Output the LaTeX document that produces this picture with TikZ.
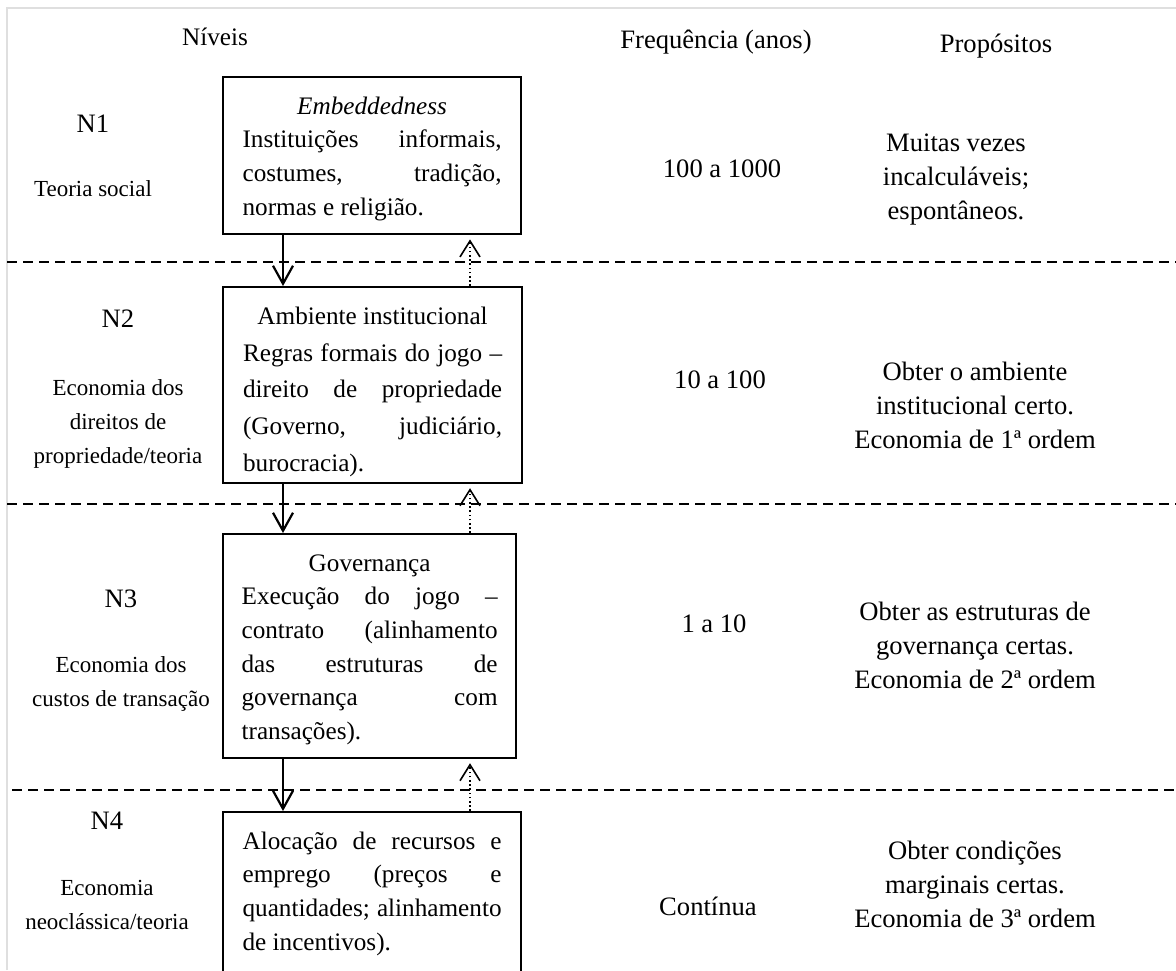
\documentclass[tikz,border=0pt]{standalone}
\usepackage{fontspec}
\setmainfont{Liberation Serif}
\usetikzlibrary{positioning,
				arrows.meta}
\newcommand\boxfont{\fontsize{12.6}{16.8}\selectfont}
\newcommand\colfont{\fontsize{13.3}{17}\selectfont}
\newcommand\descfont{\fontsize{11.5}{16.8}\selectfont}
\newcommand\plainsp{\spaceskip=0pt\xspaceskip=0pt}
\newcommand\jline[1]{\makebox[\linewidth][s]{#1}}
\tikzset{
	levelbox/.style={draw, line width=1.1pt, anchor=north west, inner xsep=9pt, inner ysep=10pt,
		text width=129.5pt, text height=8.6pt, align=left, font=\boxfont},
	coltext/.style={align=center, font=\colfont},
	desctext/.style={align=center, font=\descfont},
	sepline/.style={dash pattern=on 5pt off 3pt, line width=0.9pt},
	downarrow/.style={-{Straight Barb[length=9pt,width=10pt]}, line width=1.1pt},
	uparrow/.style={-{Straight Barb[length=8pt,width=10pt]}, line width=0.8pt,
		dash pattern=on 0.8pt off 1.3pt, shorten >=2pt}
}

\begin{document}
\begin{tikzpicture}[x=0.5pt,y=-0.5pt]
		\clip (0,0) rectangle (1176,970);
		\draw[gray!25, line width=0.6pt] (7,970) -- (7,8) -- (1176,8);
		% column heads
		\node[coltext, font=\boxfont, anchor=base] (hniv) at (215,45) {Níveis};
		\node[coltext, anchor=base] (hfreq) at (716,48) {Frequência (anos)};
		\node[coltext, anchor=base] (hprop) at (996,52) {Propósitos};
		% separators
		\foreach \x/\y in {7/262, 7/504, 12/790}
			\draw[sepline] (\x,\y) -- (1176,\y);
		% levels
		\node[coltext, anchor=base] (n1) at (93,132) {N1};
		\node[desctext, anchor=base] (d1) at (93,196) {Teoria social};
		\node[coltext, anchor=base] (n2) at (118,327) {N2};
		\node[desctext] (d2) at (118,424) {Economia dos\\direitos de\\propriedade/teoria};
		\node[coltext, anchor=base] (n3) at (121,607) {N3};
		\node[desctext] (d3) at (121,684) {Economia dos\\custos de transação};
		\node[coltext, anchor=base] (n4) at (107,829) {N4};
		\node[desctext] (d4) at (107,905) {Economia\\neoclássica/teoria};
		% boxes
		\node[levelbox, minimum width=149pt, text depth=50pt] (b1) at (222,76)
			{\plainsp\makebox[\linewidth][c]{\textit{Embeddedness}}\\
			 \jline{Instituições informais,}\\
			 \jline{costumes, tradição,}\\
			 normas e religião.};
		\node[levelbox, minimum width=149.5pt, text depth=69.4pt,
			font=\fontsize{12.6}{18.4}\selectfont] (b2) at (222,286)
			{\plainsp\makebox[\linewidth][c]{Ambiente institucional}\\
			 \jline{Regras formais do jogo –}\\
			 \jline{direito de propriedade}\\
			 \jline{(Governo, judiciário,}\\
			 burocracia).};
		\node[levelbox, text width=128pt, minimum width=146.5pt, text depth=83.4pt] (b3) at (222,533)
			{\plainsp\makebox[\linewidth][c]{Governança}\\
			 \jline{Execução do jogo –}\\
			 \jline{contrato (alinhamento}\\
			 \jline{das estruturas de}\\
			 \jline{governança com}\\
			 transações).};
		\node[levelbox, minimum width=149pt, text depth=90pt] (b4) at (222,811)
			{\plainsp\jline{Alocação de recursos e}\\
			 \jline{emprego (preços e}\\
			 \jline{quantidades; alinhamento}\\
			 de incentivos).};
		% frequency
		\node[coltext, anchor=base] (f1) at (722,177) {100 a 1000};
		\node[coltext, anchor=base] (f2) at (720,388) {10 a 100};
		\node[coltext, anchor=base] (f3) at (714,632) {1 a 10};
		\node[coltext, anchor=base] (f4) at (708,915) {Contínua};
		% purposes
		\node[coltext] (p1) at (956,180) {Muitas vezes\\incalculáveis;\\espontâneos.};
		\node[coltext] (p2) at (975,405) {Obter o ambiente\\institucional certo.\\Economia de 1ª ordem};
		\node[coltext] (p3) at (975,645) {Obter as estruturas de\\governança certas.\\Economia de 2ª ordem};
		\node[coltext] (p4) at (975,884) {Obter condições\\marginais certas.\\Economia de 3ª ordem};
		% links between levels
		\coordinate (dn) at (283,0);
		\coordinate (up) at (470,0);
		\foreach \a/\b in {b1/b2, b2/b3, b3/b4}{
			\draw[downarrow] (\a.south -| dn) -- (\b.north -| dn);
			\draw[uparrow] (\b.north -| up) -- (\a.south -| up);
		}
	\end{tikzpicture}
\end{document}
